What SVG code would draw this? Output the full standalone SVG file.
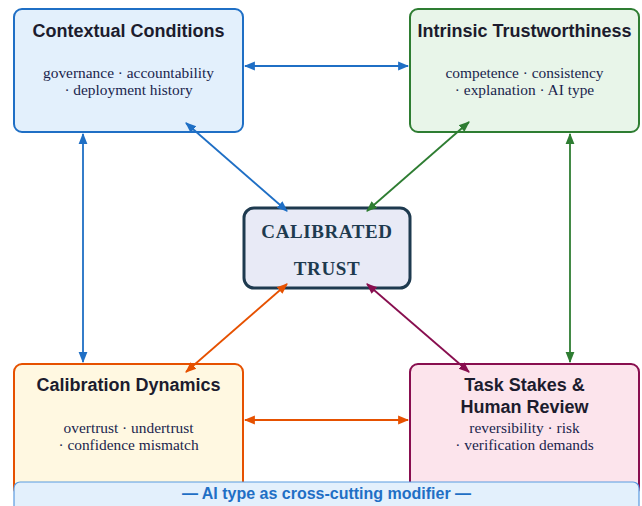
<svg xmlns="http://www.w3.org/2000/svg" width="642" height="506" viewBox="0 0 642 506">
<style>
.box{stroke-width:2}
.t{font-family:"Liberation Sans",Arial,sans-serif;font-weight:bold;font-size:18px;fill:#1c1c2e;text-anchor:middle}
.s{font-family:"Liberation Serif","Times New Roman",serif;font-size:15.4px;fill:#1a1f4d;text-anchor:middle}
.c{font-family:"Liberation Serif","Times New Roman",serif;font-weight:bold;font-size:19px;fill:#1e3a4f;text-anchor:middle;letter-spacing:0.6px}
.e{fill:none;stroke-width:1.8}
</style>
<defs>
<marker id="ab" viewBox="0 0 10 10" refX="9" refY="5" markerWidth="11" markerHeight="11" markerUnits="userSpaceOnUse" orient="auto-start-reverse"><path d="M0,1 L10,5 L0,9 z" fill="#1f6fc5"/></marker>
<marker id="ag" viewBox="0 0 10 10" refX="9" refY="5" markerWidth="11" markerHeight="11" markerUnits="userSpaceOnUse" orient="auto-start-reverse"><path d="M0,1 L10,5 L0,9 z" fill="#2e7d32"/></marker>
<marker id="ao" viewBox="0 0 10 10" refX="9" refY="5" markerWidth="11" markerHeight="11" markerUnits="userSpaceOnUse" orient="auto-start-reverse"><path d="M0,1 L10,5 L0,9 z" fill="#e65100"/></marker>
<marker id="ap" viewBox="0 0 10 10" refX="9" refY="5" markerWidth="11" markerHeight="11" markerUnits="userSpaceOnUse" orient="auto-start-reverse"><path d="M0,1 L10,5 L0,9 z" fill="#880e4f"/></marker>
</defs>
<rect width="642" height="506" fill="#ffffff"/>
<g id="contextual">
<rect class="box" x="14" y="9" width="229" height="123" rx="8" fill="#e3f0fc" stroke="#1f6fc5"/>
<text class="t" x="128.5" y="37">Contextual Conditions</text>
<text class="s" x="128.5" y="78">governance · accountability</text>
<text class="s" x="128.5" y="95">· deployment history</text>
</g>
<g id="intrinsic">
<rect class="box" x="410" y="9" width="229" height="123" rx="8" fill="#e8f5e9" stroke="#2e7d32"/>
<text class="t" x="524.5" y="37">Intrinsic Trustworthiness</text>
<text class="s" x="524.5" y="78">competence · consistency</text>
<text class="s" x="524.5" y="95">· explanation · AI type</text>
</g>
<g id="dynamics">
<rect class="box" x="14" y="364" width="229" height="132" rx="8" fill="#fff8e1" stroke="#e65100"/>
<text class="t" x="128.5" y="391">Calibration Dynamics</text>
<text class="s" x="128.5" y="433">overtrust · undertrust</text>
<text class="s" x="128.5" y="450">· confidence mismatch</text>
</g>
<g id="stakes">
<rect class="box" x="410" y="364" width="229" height="132" rx="8" fill="#fce4ec" stroke="#880e4f"/>
<text class="t" x="524.5" y="391">Task Stakes &amp;</text>
<text class="t" x="524.5" y="413">Human Review</text>
<text class="s" x="524.5" y="433">reversibility · risk</text>
<text class="s" x="524.5" y="450">· verification demands</text>
</g>
<g id="center">
<rect x="244" y="208" width="166" height="80" rx="10" fill="#e8eaf6" stroke="#1e3a4f" stroke-width="3"/>
<text class="c" x="327" y="238">CALIBRATED</text>
<text class="c" x="327" y="275">TRUST</text>
</g>
<g id="connectors">
<line class="e" x1="245" y1="66" x2="408" y2="66" stroke="#1f6fc5" marker-start="url(#ab)" marker-end="url(#ab)"/>
<line class="e" x1="83" y1="134" x2="83" y2="362" stroke="#1f6fc5" marker-start="url(#ab)" marker-end="url(#ab)"/>
<line class="e" x1="570" y1="134" x2="570" y2="362" stroke="#2e7d32" marker-start="url(#ag)" marker-end="url(#ag)"/>
<line class="e" x1="245" y1="420" x2="408" y2="420" stroke="#e65100" marker-start="url(#ao)" marker-end="url(#ao)"/>
<line class="e" x1="186" y1="123" x2="287" y2="211" stroke="#1f6fc5" marker-start="url(#ab)" marker-end="url(#ab)"/>
<line class="e" x1="469" y1="122" x2="367" y2="211" stroke="#2e7d32" marker-start="url(#ag)" marker-end="url(#ag)"/>
<line class="e" x1="287" y1="284" x2="186" y2="372" stroke="#e65100" marker-start="url(#ao)" marker-end="url(#ao)"/>
<line class="e" x1="367" y1="284" x2="469" y2="372" stroke="#880e4f" marker-start="url(#ap)" marker-end="url(#ap)"/>
</g>
<g id="banner">
<rect x="14" y="482" width="625" height="34" rx="6" fill="#e3f0fc" stroke="#5b9be0" stroke-width="1.2"/>
<text x="326.5" y="499" font-family="'Liberation Sans',Arial,sans-serif" font-weight="bold" font-size="16px" fill="#1f6fc5" text-anchor="middle">— AI type as cross-cutting modifier —</text>
</g>
</svg>
